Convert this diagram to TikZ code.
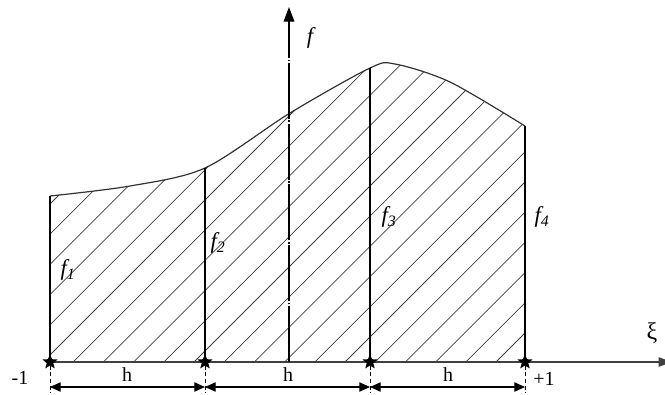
\documentclass[tikz,border=0pt]{standalone}
\usepackage{fontspec}
\setmainfont{Liberation Serif}
\usetikzlibrary{shapes.geometric,arrows.meta}
\tikzset{
  knot/.style={star,star points=5,star point ratio=2.3,fill=black,inner sep=0pt,minimum size=12pt},
  hatch/.style={black!75,line width=0.55pt},
  dimline/.style={{Triangle[length=8pt,width=7pt]}-{Triangle[length=8pt,width=7pt]},line width=0.8pt},
  ticky/.style={dash pattern=on 3pt off 2pt,line width=0.7pt},
  axisline/.style={black!75,line width=1pt,-{Triangle[length=10pt,width=7pt]}},
  flabel/.style={font=\fontsize{17}{18}\selectfont\itshape}
}
\begin{document}
\begin{tikzpicture}[x=0.75pt,y=-0.75pt,font=\fontsize{15}{16}\selectfont]
    \useasboundingbox (0,0) rectangle (665,394);
    \coordinate (x0) at (50,362);  \coordinate (x1) at (205,362);
    \coordinate (x2) at (370,362); \coordinate (x3) at (525,362);
    \coordinate (t0) at (50,196);  \coordinate (t1) at (205,168);
    \coordinate (t2) at (370,68);  \coordinate (t3) at (525,126);
    \coordinate (xend) at (672,362);
    \coordinate (o) at (289,362); \coordinate (ftop) at (289,7);
    % hatching under the curve
    \begin{scope}
      \clip (x0) -- plot[smooth] coordinates {(50,196) (130,186) (205,168) (290,113) (370,68) (395,64) (450,82) (525,126)} -- (x3) -- cycle;
      \foreach \k in {-10,...,16} \draw[hatch] ({43+30.2*\k},362) -- ++(420,-420);
    \end{scope}
    \draw[black!80,line width=0.9pt] plot[smooth] coordinates {(50,196) (130,186) (205,168) (290,113) (370,68) (395,64) (450,82) (525,126)};
    \draw[line width=0.9pt] (x0)--(t0); \draw[line width=0.9pt] (x1)--(t1);
    \draw[line width=0.9pt] (x2)--(t2); \draw[line width=0.9pt] (x3)--(t3);
    % axes
    \draw[axisline] (x0)--(xend);
    \draw[line width=1pt,dash pattern=on 42pt off 1.2pt on 1.2pt off 1.2pt,-{Triangle[length=11pt,width=8pt]}] (o)--(ftop);
    \node[knot] (k0) at (x0) {}; \node[knot] (k1) at (x1) {};
    \node[knot] (k2) at (x2) {}; \node[knot] (k3) at (x3) {};
    % widths h
    \coordinate (b0) at (50,393);  \coordinate (b1) at (205,393);
    \coordinate (b2) at (370,393); \coordinate (b3) at (525,393);
    \coordinate (d0) at (50,387);  \coordinate (d1) at (205,387);
    \coordinate (d2) at (370,387); \coordinate (d3) at (525,387);
    \draw[ticky] (k0.south)--(b0); \draw[ticky] (k1.south)--(b1);
    \draw[ticky] (k2.south)--(b2); \draw[ticky] (k3.south)--(b3);
    \draw[dimline] (d0)--(d1); \draw[dimline] (d1)--(d2); \draw[dimline] (d2)--(d3);
    \node (h1) at (127,375) {h}; \node (h2) at (288,375) {h}; \node (h3) at (448,375) {h};
    \node (m1) at (20,378) {-1}; \node (p1) at (544,379) {+1};
    \node (xi) at (652,333) {\fontsize{18}{19}\selectfont ξ};
    \node[flabel] (fl) at (310,38) {f};
    \node[flabel] (f1) at (68,270) {f\textsubscript{1}};
    \node[flabel] (f2) at (218,243) {f\textsubscript{2}};
    \node[flabel] (f3) at (389,217) {f\textsubscript{3}};
    \node[flabel] (f4) at (542,217) {f\textsubscript{4}};
\end{tikzpicture}
\end{document}
